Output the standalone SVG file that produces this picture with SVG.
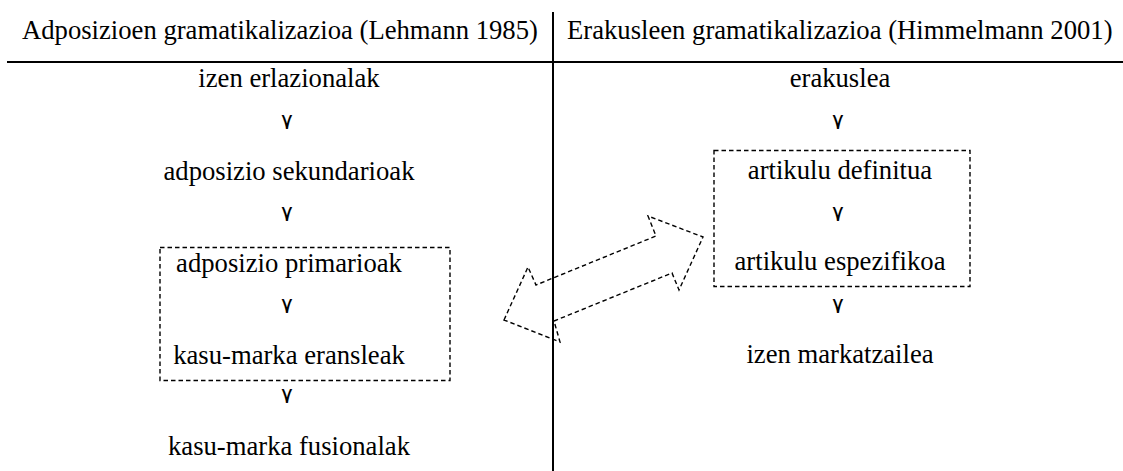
<svg xmlns="http://www.w3.org/2000/svg" width="1123" height="471" viewBox="0 0 1123 471">
<style>
.t{font-family:"Times New Roman","Liberation Serif",Tinos,"Nimbus Roman","DejaVu Serif",serif;font-size:26.67px;fill:#000}
.c{text-anchor:middle}
.v{font-family:"DejaVu Sans ExtraLight","DejaVu Sans","Noto Sans",sans-serif;font-size:22px;fill:#000;text-anchor:middle}
.d{fill:none;stroke:#000;stroke-width:1.4;stroke-dasharray:4.5 3}
.s{stroke:#000;stroke-width:2;fill:none}
</style>
<rect width="1123" height="471" fill="#fff"/>
<g id="frame">
<line class="s" x1="7" y1="62" x2="1123" y2="62"/>
<line class="s" x1="553" y1="12" x2="553" y2="471"/>
</g>
<g id="headers">
<text class="t" x="22" y="39">Adposizioen gramatikalizazioa (Lehmann 1985)</text>
<text class="t" x="567" y="39">Erakusleen gramatikalizazioa (Himmelmann 2001)</text>
</g>
<g id="left-nodes">
<g id="n-izen-erlazionalak"><text class="t c" x="289" y="87">izen erlazionalak</text></g>
<g id="n-adposizio-sekundarioak"><text class="t c" x="289" y="180">adposizio sekundarioak</text></g>
<g id="n-box-left"><rect class="d" x="160" y="247.5" width="290" height="133"/></g>
<g id="n-adposizio-primarioak"><text class="t c" x="289" y="272">adposizio primarioak</text></g>
<g id="n-kasu-marka-eransleak"><text class="t c" x="289" y="364">kasu-marka eransleak</text></g>
<g id="n-kasu-marka-fusionalak"><text class="t c" x="289" y="455">kasu-marka fusionalak</text></g>
</g>
<g id="right-nodes">
<g id="n-erakuslea"><text class="t c" x="840" y="87">erakuslea</text></g>
<g id="n-box-right"><rect class="d" x="714" y="150.5" width="256" height="136"/></g>
<g id="n-artikulu-definitua"><text class="t c" x="840" y="179">artikulu definitua</text></g>
<g id="n-artikulu-espezifikoa"><text class="t c" x="840" y="270">artikulu espezifikoa</text></g>
<g id="n-izen-markatzailea"><text class="t c" x="840" y="363">izen markatzailea</text></g>
</g>
<g id="connectors">
<text class="v" x="287" y="129">٧</text>
<text class="v" x="287" y="221">٧</text>
<text class="v" x="287" y="313">٧</text>
<text class="v" x="287" y="403">٧</text>
<text class="v" x="838" y="129">٧</text>
<text class="v" x="838" y="221">٧</text>
<text class="v" x="838" y="313">٧</text>
<polygon class="d" points="504,320 528,267 536,285 656,236 648,216 703,237 679,290 672,273 554,321 560,342"/>
</g>
</svg>
